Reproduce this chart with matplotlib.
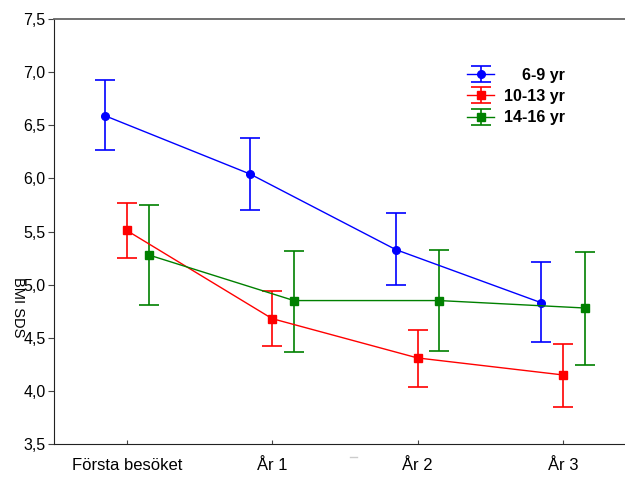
import numpy as np
import matplotlib
matplotlib.use('Agg')
import matplotlib.pyplot as plt
from matplotlib.lines import Line2D

plt.rcParams['font.family'] = ['Liberation Sans', 'DejaVu Sans']

# data
visits = ['Första besöket', 'År 1', 'År 2', 'År 3']
groups = ['    6-9 yr', '10-13 yr', '14-16 yr']

mean_69 = [6.59, 6.04, 5.33, 4.83]
upper_69 = [6.93, 6.38, 5.67, 5.21]
lower_69 = [6.27, 5.70, 5.00, 4.46]

mean_1013 = [5.51, 4.68, 4.31, 4.15]
upper_1013 = [5.77, 4.94, 4.57, 4.44]
lower_1013 = [5.25, 4.42, 4.04, 3.85]

mean_1416 = [5.28, 4.85, 4.85, 4.78]
upper_1416 = [5.75, 5.32, 5.33, 5.31]
lower_1416 = [4.81, 4.37, 4.375, 4.24]

y_ticks = [3.5, 4.0, 4.5, 5.0, 5.5, 6.0, 6.5, 7.0, 7.5]

fig = plt.figure(figsize=(6.25, 4.78), dpi=100)
# axes run past the right edge of the picture, like the original
ax = fig.add_axes([54 / 625, 34 / 478, 581.6 / 625, 425 / 478])

x = np.arange(len(visits))
offsets = [-0.15, 0.0, 0.15]
series = [
    (mean_69, upper_69, lower_69, '#0000ff', 'o', 5.5),
    (mean_1013, upper_1013, lower_1013, '#ff0000', 's', 5.5),
    (mean_1416, upper_1416, lower_1416, '#008000', 's', 5.5),
]

for (m, up, lo, col, mk, ms), off, name in zip(series, offsets, groups):
    m = np.array(m)
    yerr = [m - np.array(lo), np.array(up) - m]
    ax.errorbar(x + off, m, yerr=yerr, color=col, marker=mk, markersize=ms,
                lw=1.0, elinewidth=1.2, capsize=7, capthick=1.2, label=name)

ax.set_xlim(-0.5, 3.5)
ax.set_ylim(3.5, 7.5)
ax.set_xticks(x)
ax.set_xticklabels(visits, fontsize=12)
ax.set_yticks(y_ticks)
ax.set_yticklabels([f'{v:.1f}'.replace('.', ',') for v in y_ticks], fontsize=11.5)
ax.tick_params(axis='x', direction='in', length=3, pad=10, color='#444444')
ax.tick_params(axis='y', direction='out', length=4, pad=2, color='#444444')
ax.spines['right'].set_visible(False)
for s in ['left', 'bottom']:
    ax.spines[s].set_color('#222222')
ax.spines['top'].set_color('#666666')
ax.spines['top'].set_linewidth(1.3)

fig.text(18 / 625, 1 - 307 / 478, 'BMI SDS', rotation=270, fontsize=10.5,
         ha='center', va='center')

# small grey dash under the axis (empty axis title in the original)
fig.add_artist(Line2D([350 / 625, 357 / 625], [1 - 457 / 478, 1 - 457 / 478],
                      color='#cccccc', lw=1))

leg = ax.legend(loc='upper left', bbox_to_anchor=(467 / 625, 1 - 68 / 478),
                bbox_transform=fig.transFigure, frameon=False, borderpad=0,
                borderaxespad=0, handlelength=1.7, handletextpad=0.6,
                labelspacing=0.38, prop={'weight': 'bold', 'size': 11.5})

fig.savefig('out.png', dpi=100)
